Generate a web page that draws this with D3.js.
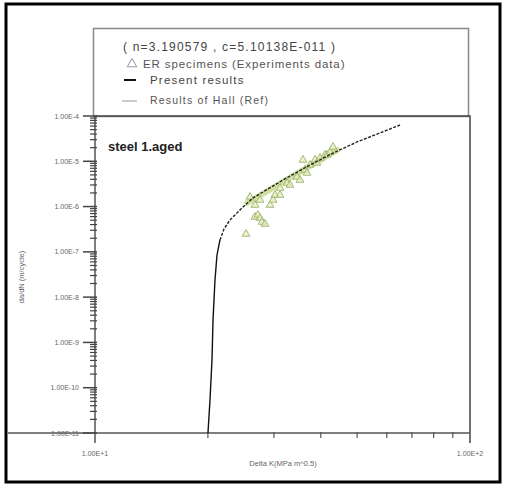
<!DOCTYPE html>
<html>
<head>
<meta charset="utf-8">
<script src="https://cdn.jsdelivr.net/npm/d3@7"></script>
<style>
  body { margin: 0; background: #fff; }
  svg { display: block; font-family: "Liberation Sans", Arial, sans-serif; }
</style>
</head>
<body>
<svg id="chart" width="508" height="486"></svg>
<script>
// delta K (MPa m^0.5) and da/dN (m/cycle)
var curveK    = [20.01, 20.26, 20.51, 20.64, 20.89, 21.15, 21.54, 22.08, 22.91, 24.81, 26.38, 31.72, 37.44, 43.12, 49.96, 65.08];
var curveRate = [1e-11, 5.36e-11, 4.09e-10, 3.13e-9, 2.39e-8, 8.53e-8, 1.83e-7, 3.2e-7, 5.06e-7, 9.8e-7, 1.55e-6, 3.86e-6, 8.28e-6, 1.52e-5, 2.67e-5, 6.33e-5];

var hallK    = [25.43, 44.19];
var hallRate = [1.2e-6, 1.77e-5];

var expK    = [25.27, 25.9, 26.7, 27.2, 27.54, 27.88, 28.4, 26.7, 27.54, 29.29, 29.84, 30.2, 31.14, 31.14, 32.51, 33.11, 34.56, 35.21, 35.86, 36.31, 36.76, 37.44, 38.61, 39.08, 39.81, 41.06, 41.57, 42.34, 43.12];
var expRate = [2.48e-7, 1.63e-6, 5.89e-7, 6.51e-7, 5.59e-7, 4.56e-7, 4.12e-7, 1.08e-6, 1.4e-6, 1.08e-6, 1.4e-6, 1.8e-6, 1.8e-6, 2.57e-6, 3.31e-6, 2.99e-6, 4.5e-6, 3.86e-6, 1.07e-5, 6.42e-6, 5.51e-6, 8.28e-6, 1.07e-5, 9.17e-6, 1.18e-5, 1.38e-5, 1.38e-5, 1.6e-5, 2.07e-5];

var yTickLabels = ["1.00E-11", "1.00E-10", "1.00E-9", "1.00E-8", "1.00E-7", "1.00E-6", "1.00E-5", "1.00E-4"];
var xTickLabels = ["1.00E+1", "1.00E+2"];
var legendLines = ["( n=3.190579 , c=5.10138E-011 )", "ER specimens  (Experiments data)", "Present results", "Results of Hall (Ref)"];

var svg = d3.select("#chart");
var x = d3.scaleLog().domain([10, 100]).range([95, 470]);
var y = d3.scaleLog().domain([1e-11, 1e-4]).range([433, 116]);

// outer frame
svg.append("rect").attr("x", 6).attr("y", 4).attr("width", 494).attr("height", 478)
    .attr("fill", "none").attr("stroke", "#000").attr("stroke-width", 3);

// legend box
svg.append("rect").attr("x", 93.5).attr("y", 28.5).attr("width", 375).attr("height", 88)
    .attr("fill", "none").attr("stroke", "#888").attr("stroke-width", 1.5);

// plot box top + right
svg.append("path").attr("d", "M" + x(10) + "," + y(1e-4) + "H" + x(100) + "V" + (y(1e-11) + 10))
    .attr("fill", "none").attr("stroke", "#444").attr("stroke-width", 1.5);
// x axis line extends to the frame
svg.append("line").attr("x1", 8).attr("x2", x(100)).attr("y1", y(1e-11)).attr("y2", y(1e-11))
    .attr("stroke", "#555").attr("stroke-width", 1.5);
// y axis line
svg.append("line").attr("x1", x(10)).attr("x2", x(10)).attr("y1", y(1e-4)).attr("y2", y(1e-11) + 10)
    .attr("stroke", "#555").attr("stroke-width", 1.5);

// y ticks
var yMajor = d3.range(-11, -3).map(function(e) { return Math.pow(10, e); });
var yMinor = [];
yMajor.slice(0, -1).forEach(function(d) { for (var m = 2; m < 10; m++) yMinor.push(d * m); });
svg.selectAll(".ymin").data(yMinor).join("line")
    .attr("x1", x(10) - 5).attr("x2", x(10) + 2)
    .attr("y1", function(d) { return y(d); }).attr("y2", function(d) { return y(d); })
    .attr("stroke", "#444").attr("stroke-width", 1.2);
svg.selectAll(".ymaj").data(yMajor).join("line")
    .attr("x1", x(10) - 12).attr("x2", x(10) + 2)
    .attr("y1", function(d) { return y(d); }).attr("y2", function(d) { return y(d); })
    .attr("stroke", "#444").attr("stroke-width", 1.5);
svg.selectAll(".ylab").data(yMajor).join("text")
    .attr("x", x(10) - 16).attr("y", function(d) { return y(d) + 2.5; })
    .attr("text-anchor", "end").attr("font-size", 7).attr("fill", "#666")
    .text(function(d, i) { return yTickLabels[i]; });

// x ticks
var xMinor = d3.range(2, 10).map(function(m) { return m * 10; });
svg.selectAll(".xmin").data(xMinor).join("line")
    .attr("x1", function(d) { return x(d); }).attr("x2", function(d) { return x(d); })
    .attr("y1", y(1e-11) - 1).attr("y2", y(1e-11) + 5)
    .attr("stroke", "#555").attr("stroke-width", 1.2);
svg.selectAll(".xlab").data([10, 100]).join("text")
    .attr("x", function(d) { return x(d); }).attr("y", 456)
    .attr("text-anchor", "middle").attr("font-size", 7).attr("fill", "#666")
    .text(function(d, i) { return xTickLabels[i]; });

// axis titles
svg.append("text").attr("x", 283).attr("y", 466).attr("text-anchor", "middle")
    .attr("font-size", 7.5).attr("fill", "#666").text("Delta K(MPa m^0.5)");
svg.append("text").attr("transform", "translate(24,277) rotate(-90)").attr("text-anchor", "middle")
    .attr("font-size", 7.5).attr("fill", "#666").text("da/dN (m/cycle)");

// steel label
svg.append("text").attr("x", 108).attr("y", 151).attr("font-size", 13).attr("font-weight", "bold")
    .attr("fill", "#222").text("steel 1.aged");

var line = d3.line().x(function(d) { return x(d[0]); }).y(function(d) { return y(d[1]); });

// Hall results (light green band)
svg.append("path").datum(d3.zip(hallK, hallRate)).attr("d", line)
    .attr("fill", "none").attr("stroke", "#cfe0a0").attr("stroke-width", 6).attr("stroke-linecap", "round");

// experiments
var tri = d3.symbol().type(d3.symbolTriangle).size(26);
svg.selectAll(".pt").data(d3.zip(expK, expRate)).join("path")
    .attr("d", tri)
    .attr("transform", function(d) { return "translate(" + x(d[0]) + "," + y(d[1]) + ")"; })
    .attr("fill", "#e2ecc0").attr("fill-opacity", 0.7).attr("stroke", "#a6b870").attr("stroke-width", 1);

// present results: solid near threshold, dotted above
var pts = d3.zip(curveK, curveRate);
svg.append("path").datum(pts.filter(function(d) { return d[1] <= 1.9e-7; })).attr("d", line)
    .attr("fill", "none").attr("stroke", "#111").attr("stroke-width", 1.4);
svg.append("path").datum(pts.filter(function(d) { return d[1] >= 1.8e-7; })).attr("d", line)
    .attr("fill", "none").attr("stroke", "#222").attr("stroke-width", 1.4).attr("stroke-dasharray", "3,1.5");

// legend
var lg = svg.append("g").attr("fill", "#444");
lg.append("text").attr("x", 123).attr("y", 51).attr("font-size", 12).attr("letter-spacing", 1.2)
    .text(legendLines[0]);
lg.append("path").attr("d", d3.symbol().type(d3.symbolTriangle).size(40))
    .attr("transform", "translate(132,64)").attr("fill", "none").attr("stroke", "#999").attr("stroke-width", 1);
lg.append("text").attr("x", 143).attr("y", 68).attr("font-size", 11.5).attr("letter-spacing", 0.9)
    .attr("fill", "#555").text(legendLines[1]);
lg.append("line").attr("x1", 124).attr("x2", 136).attr("y1", 80).attr("y2", 80)
    .attr("stroke", "#111").attr("stroke-width", 2);
lg.append("text").attr("x", 150).attr("y", 84).attr("font-size", 11.5).attr("letter-spacing", 1.2)
    .text(legendLines[2]);
lg.append("line").attr("x1", 122).attr("x2", 137).attr("y1", 101).attr("y2", 101)
    .attr("stroke", "#bbb").attr("stroke-width", 1.5);
lg.append("text").attr("x", 150).attr("y", 104).attr("font-size", 10.5).attr("letter-spacing", 1.2)
    .attr("fill", "#555").text(legendLines[3]);
</script>
</body>
</html>
